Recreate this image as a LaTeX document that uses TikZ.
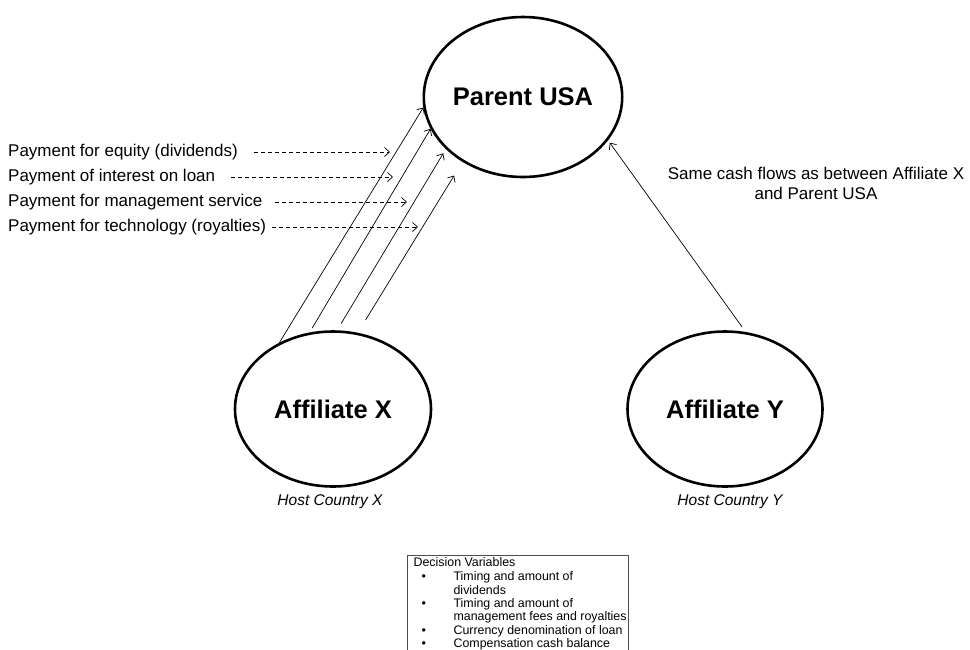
\documentclass[tikz,border=0pt]{standalone}
\usepackage{fontspec}
\setmainfont{Liberation Sans}
\usetikzlibrary{shapes.geometric,arrows.meta}
% one line of the decision-variable list, at a fixed width
\newcommand\dvrow[1]{\makebox[215pt][l]{#1}}
\newcommand\dvitem[1]{\dvrow{\hspace*{11pt}\makebox[32pt][l]{•}#1}}
\newcommand\dvcont[1]{\dvrow{\hspace*{43pt}#1}}
\begin{document}
\begin{tikzpicture}[x=1pt,y=-1pt,
  entity/.style={ellipse, draw, line width=2.6pt, inner sep=0pt,
    font=\fontsize{25.5}{30}\selectfont\bfseries},
  flow/.style={-{Straight Barb[length=5pt,width=9pt]}, line width=0.7pt},
  payment/.style={flow, dash pattern=on 4pt off 3pt},
  paylabel/.style={anchor=west, inner sep=0pt, font=\fontsize{17}{20}\selectfont},
  host/.style={inner sep=0pt, font=\fontsize{15.5}{18}\selectfont\itshape},
  varbox/.style={draw=black!70, line width=1.2pt, anchor=north west,
    inner xsep=3pt, inner ysep=2pt, align=left,
    font=\fontsize{12.4}{13.3}\selectfont},
]
\useasboundingbox (0,0) rectangle (970,649);
\clip (0,0) rectangle (970,649);

% companies
\node[entity, minimum width=195pt, minimum height=160pt] (parent) at (523,97) {Parent USA};
\node[entity, minimum width=196pt, minimum height=155pt] (affx) at (333,409) {Affiliate X};
\node[entity, minimum width=195pt, minimum height=155pt] (affy) at (725,409) {Affiliate Y};

\node[host] (hostx) at (330,502) {Host Country X};
\node[host] (hosty) at (730,502) {Host Country Y};

% cash flows from Affiliate X to the parent
\draw[flow] (affx.129) -- (parent.186);
\draw[flow, shorten <=5pt] (affx.107) -- (parent.199);
\draw[flow, shorten <=8pt, shorten >=5pt] (affx.87) -- (parent.214);
\draw[flow, shorten <=15pt, shorten >=16pt] (affx.72) -- (parent.227);

% cash flows from Affiliate Y to the parent
\draw[flow, shorten <=6pt, shorten >=3pt] (affy.75) -- (parent.333);

% payment labels
\node[paylabel] (pe) at (8,152) {Payment for equity (dividends)};
\node[paylabel] (pi) at (8,177) {Payment of interest on loan};
\node[paylabel] (pm) at (8,202) {Payment for management service};
\node[paylabel] (pt) at (8,227) {Payment for technology (royalties)};
\coordinate (pe-end) at (390,152);
\coordinate (pi-end) at (393,177);
\coordinate (pm-end) at (407,202);
\coordinate (pt-end) at (418,227);
\draw[payment, shorten <=16pt] (pe.east) -- (pe-end);
\draw[payment, shorten <=16pt] (pi.east) -- (pi-end);
\draw[payment, shorten <=12pt] (pm.east) -- (pm-end);
\draw[payment, shorten <=6pt] (pt.east) -- (pt-end);

\node[font=\fontsize{17}{20}\selectfont, align=center, inner sep=0pt] (same) at (816,183)
  {Same cash flows as between Affiliate X\\and Parent USA};

% decision variables
\node[varbox] (vars) at (407,555) {\dvrow{\hspace*{3pt}Decision Variables}\\[1pt]
\dvitem{Timing and amount of}\\
\dvcont{dividends}\\
\dvitem{Timing and amount of}\\
\dvcont{management fees and royalties}\\
\dvitem{Currency denomination of loan}\\
\dvitem{Compensation cash balance}};
\end{tikzpicture}
\end{document}
